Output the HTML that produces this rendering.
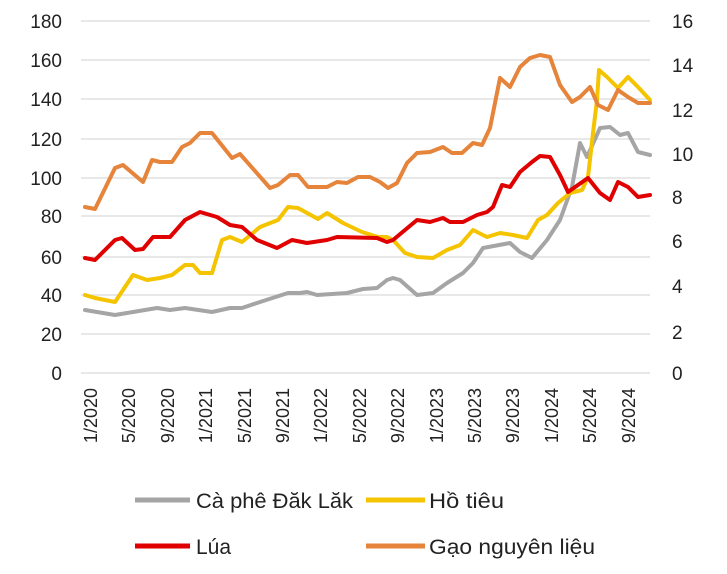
<!DOCTYPE html>
<html><head><meta charset="utf-8"><style>
html,body{margin:0;padding:0;background:#fff;}
svg{display:block;font-family:"Liberation Sans",sans-serif;}
</style></head><body>
<svg width="727" height="574" viewBox="0 0 727 574">
<g stroke="#d9d9d9" stroke-width="1.3">
<line x1="81" x2="650" y1="21" y2="21"/><line x1="81" x2="650" y1="60" y2="60"/>
<line x1="81" x2="650" y1="99" y2="99"/><line x1="81" x2="650" y1="139" y2="139"/>
<line x1="81" x2="650" y1="178" y2="178"/><line x1="81" x2="650" y1="216" y2="216"/>
<line x1="81" x2="650" y1="257" y2="257"/><line x1="81" x2="650" y1="295" y2="295"/>
<line x1="81" x2="650" y1="334" y2="334"/><line x1="81" x2="650" y1="373" y2="373"/>
</g>
<g font-size="19" fill="#222" text-anchor="end">
<text x="62" y="28">180</text><text x="62" y="67">160</text><text x="62" y="106">140</text>
<text x="62" y="146">120</text><text x="62" y="185">100</text><text x="62" y="223">80</text>
<text x="62" y="264">60</text><text x="62" y="302">40</text><text x="62" y="341">20</text><text x="62" y="380">0</text>
</g>
<g font-size="19" fill="#222">
<text x="672" y="28">16</text><text x="672" y="72">14</text><text x="672" y="117">12</text>
<text x="672" y="161">10</text><text x="672" y="204">8</text><text x="672" y="248">6</text>
<text x="672" y="293">4</text><text x="672" y="339">2</text><text x="672" y="380">0</text>
</g>
<g font-size="18" fill="#222" text-anchor="end">
<text transform="translate(97,388) rotate(-90)">1/2020</text>
<text transform="translate(135,388) rotate(-90)">5/2020</text>
<text transform="translate(174,388) rotate(-90)">9/2020</text>
<text transform="translate(212,388) rotate(-90)">1/2021</text>
<text transform="translate(251,388) rotate(-90)">5/2021</text>
<text transform="translate(289,388) rotate(-90)">9/2021</text>
<text transform="translate(327,388) rotate(-90)">1/2022</text>
<text transform="translate(366,388) rotate(-90)">5/2022</text>
<text transform="translate(404,388) rotate(-90)">9/2022</text>
<text transform="translate(443,388) rotate(-90)">1/2023</text>
<text transform="translate(481,388) rotate(-90)">5/2023</text>
<text transform="translate(519,388) rotate(-90)">9/2023</text>
<text transform="translate(558,388) rotate(-90)">1/2024</text>
<text transform="translate(596,388) rotate(-90)">5/2024</text>
<text transform="translate(635,388) rotate(-90)">9/2024</text>
</g>
<g fill="none" stroke-width="4" stroke-linejoin="round" stroke-linecap="round">
<polyline stroke="#a5a5a5" points="85,310 103,313 115,315 133,312 157,308 170,310 185,308 212,312 230,308 242,308 260,302 288,293 300,293 307,292 317,295 347,293 363,289 377,288 387,280 393,278 400,280 417,295 433,293 447,283 463,273 473,263 483,248 510,243 520,252 532,258 547,240 560,220 572,187 580,143 587,157 600,128 610,127 620,135 628,133 638,152 650,155"/>
<polyline stroke="#f5c400" points="85,295 95,298 115,302 133,275 147,280 160,278 172,275 185,265 193,265 200,273 212,273 222,240 230,237 242,242 260,227 278,220 288,207 298,208 318,219 327,213 343,223 362,232 378,237 387,237 393,240 405,253 417,257 433,258 447,250 460,245 473,230 487,237 500,233 513,235 527,238 538,220 547,215 558,203 570,193 582,190 588,177 593,133 597,100 599,70 607,77 618,88 628,77 638,87 650,100"/>
<polyline stroke="#e00000" points="85,258 95,260 115,240 122,238 135,250 143,249 153,237 170,237 185,220 200,212 217,217 230,225 242,227 257,240 277,248 292,240 307,243 327,240 337,237 377,238 387,242 393,240 417,220 430,222 443,218 450,222 463,222 477,215 487,212 493,207 502,185 510,187 520,172 532,162 540,156 550,157 560,175 568,192 578,185 588,178 600,193 610,200 618,182 628,187 638,197 650,195"/>
<polyline stroke="#e5843a" points="85,207 95,209 115,168 123,165 143,182 152,160 160,162 172,162 182,147 190,143 200,133 212,133 232,158 240,154 270,188 278,185 290,175 298,175 308,187 327,187 337,182 347,183 358,177 370,177 380,182 388,188 397,183 407,163 417,153 430,152 443,147 452,153 462,153 473,143 482,145 490,128 500,78 510,87 520,67 530,58 540,55 550,57 560,85 572,102 580,97 590,87 598,105 608,110 618,90 628,97 638,103 650,103"/>
</g>
<g stroke-width="5">
<line x1="135" x2="190" y1="500" y2="500" stroke="#a5a5a5"/>
<line x1="366" x2="425" y1="500" y2="500" stroke="#f5c400"/>
<line x1="135" x2="190" y1="546" y2="546" stroke="#e00000"/>
<line x1="366" x2="425" y1="546" y2="546" stroke="#e5843a"/>
</g>
<g font-size="21" fill="#222">
<text x="196" y="508" textLength="157" lengthAdjust="spacingAndGlyphs">Cà phê Đăk Lăk</text>
<text x="429" y="508" textLength="75" lengthAdjust="spacingAndGlyphs">Hồ tiêu</text>
<text x="196" y="554">Lúa</text>
<text x="429" y="554" textLength="166" lengthAdjust="spacingAndGlyphs">Gạo nguyên liệu</text>
</g>
</svg>
</body></html>
